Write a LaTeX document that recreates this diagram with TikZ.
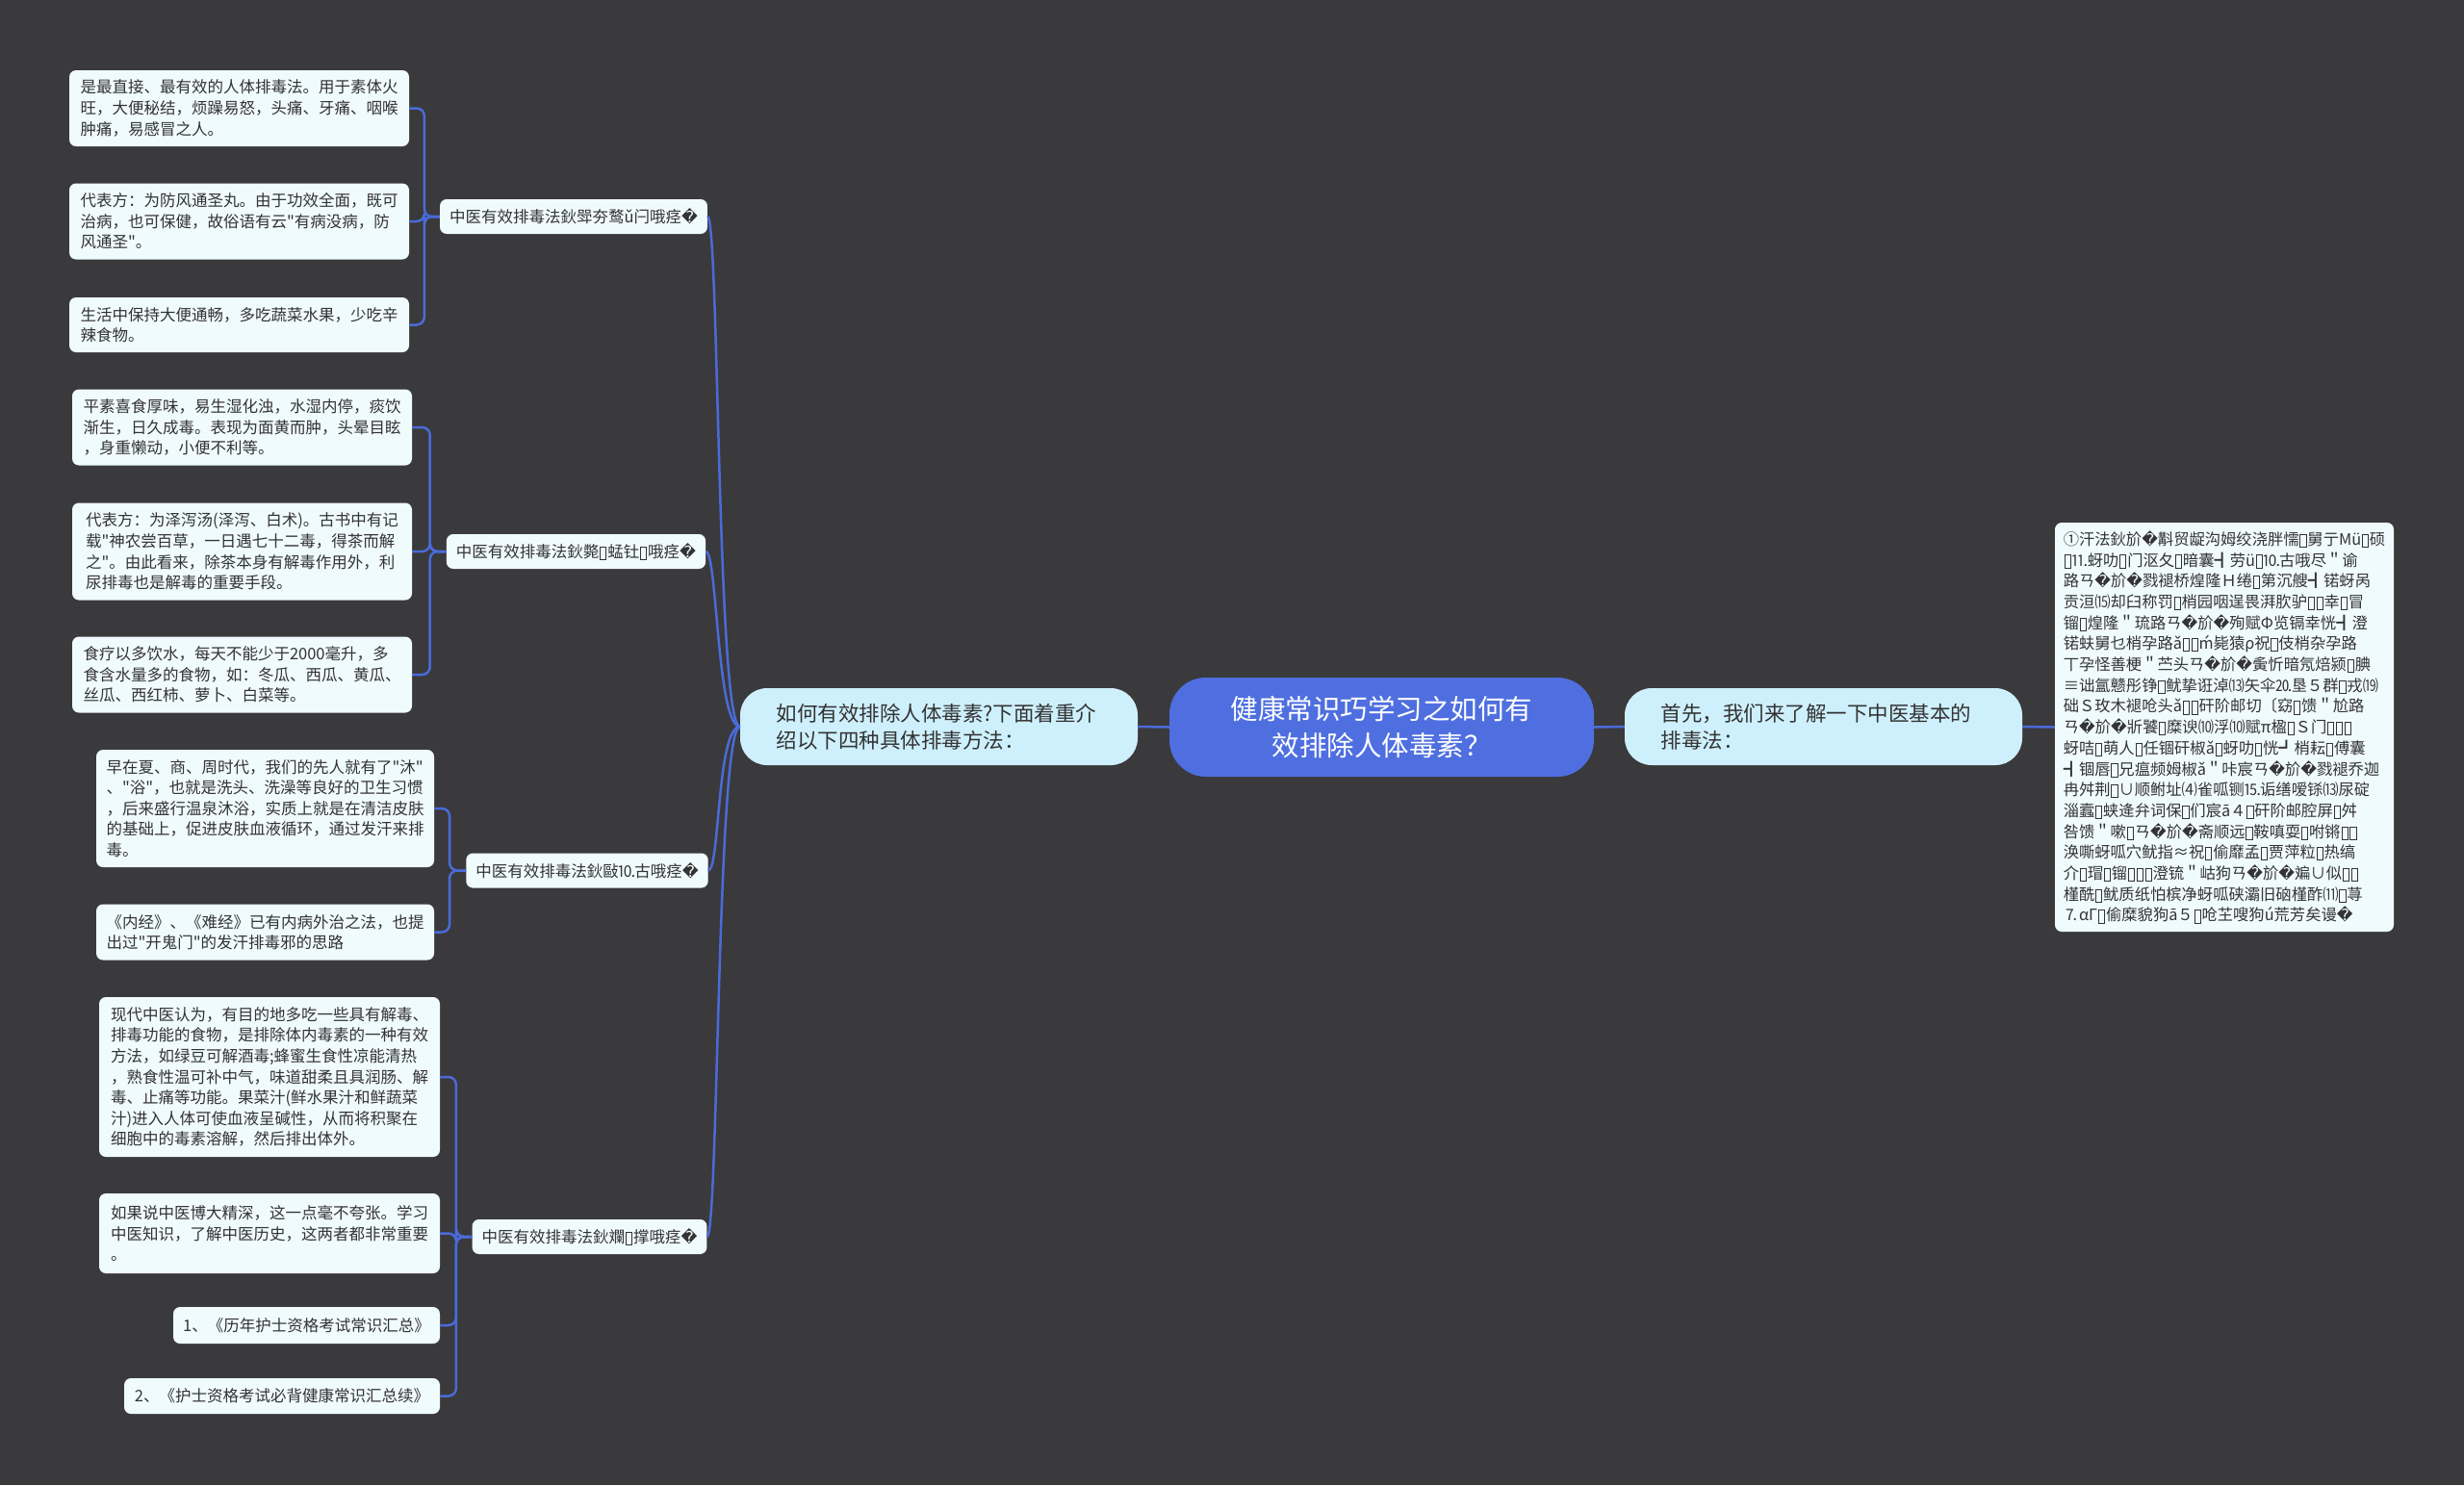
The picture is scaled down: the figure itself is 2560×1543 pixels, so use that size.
\documentclass[tikz,border=0pt]{standalone}
\usepackage{fontspec}
\setmainfont{Noto Sans CJK SC}[Ligatures=TeXOff]
\newfontfamily\dvfont{DejaVu Sans}
\usetikzlibrary{calc}
\definecolor{bgc}{HTML}{3A393C}
\definecolor{mainc}{HTML}{4F6FE0}
\definecolor{lonec}{HTML}{CEF0FC}
\definecolor{leafc}{HTML}{F0FBFD}
\definecolor{linec}{HTML}{4A6BD8}
\definecolor{txtc}{HTML}{333333}
\newcommand\mjr{{\dvfont\symbol{"FFFD}}}
\newcommand\mjb{\kern0.05em\raisebox{-0.1em}{\setlength\fboxsep{0pt}\setlength\fboxrule{0.06em}\fbox{\rule{0pt}{0.75em}\hspace{0.32em}}}\kern0.05em}
\tikzset{
  leaf/.style={fill=leafc, rounded corners=7, text=txtc, font=\fontsize{16.5}{21.6}\selectfont, align=left, inner xsep=10, inner ysep=0},
  branch/.style={leaf, minimum height=36},
  lone/.style={fill=lonec, rounded corners=28, text=txtc, font=\fontsize{21.5}{28}\selectfont, align=left, inner xsep=0, inner ysep=0, minimum width=413, minimum height=80, text width=338},
  root/.style={fill=mainc, rounded corners=38, text=white, font=\fontsize{28.5}{37.5}\selectfont, align=center, minimum width=441, minimum height=103},
  conn/.style={draw=linec, line width=2.5},
  elbow/.style={conn, rounded corners=8}
}
\begin{document}
\begin{tikzpicture}[x=1pt,y=-1pt]
\useasboundingbox (0,0) rectangle (2560,1543);
\fill[bgc] (0,0) rectangle (2560,1543);

\node[root] (root) at (1435.5,755.5) {健康常识巧学习之如何有\\效排除人体毒素？};
\node[lone] (l1l) at (975.5,755) {如何有效排除人体毒素?下面着重介\\绍以下四种具体排毒方法：};
\node[lone] (l1r) at (1894.5,755) {首先，我们来了解一下中医基本的\\排毒法：};

\node[leaf, minimum width=352, minimum height=425, inner xsep=6, font=\fontsize{16.3}{21.7}\selectfont] (r2) at (2311,755.5) {%
①汗法鈥斺\mjr 斠贸龊沟姆绞浇胖懦\mjb 舅亍Mü\mjb 硕\\
\mjb ⒒蚜叻\mjb 门沤夂\mjb 暗囊┫劳ü\mjb ⒑古哦尽＂谕\\
路ㄢ\mjr 斺\mjr 戮褪桥煌隆Ｈ绻\mjb 第沉艘┫锘蚜呙\\
贡洹⒂却臼称罚\mjb 梢园咽逞畏湃肷驴\mjb\mjb 幸\mjb 冒\\
镏\mjb 煌隆＂琉路ㄢ\mjr 斺\mjr 殉赋Φ览镉幸恍┫澄\\
锘蚨舅乜梢孕路ǎ\mjb\mjb ḿ毙猿ρ祝\mjb 伎梢杂孕路\\
丅孕怪善梗＂苎头ㄢ\mjr 斺\mjr 夤忻暗氖焙颍\mjb 腆\\
≡诎氲戆彤铮\mjb 鱿挚诳淖⒀矢伞⒛垦５群\mjb 戎⒆\\
础Ｓ玫木褪呛头ǎ\mjb\mjb 矸阶邮切〔窈\mjb 馈＂尬路\\
ㄢ\mjr 斺\mjr 斨饕\mjb 糜谀⑽浮⑽赋π楹\mjb Ｓ门\mjb\mjb\mjb\\
蚜咭\mjb 萌人\mjb 任锢矸椒ǎ\mjb 蚜叻\mjb 恍┛梢耘\mjb 傅囊\\
┫锢唇\mjb 兄瘟频姆椒ǎ＂咔宸ㄢ\mjr 斺\mjr 戮褪乔迦\\
冉舛荆\mjb ∪顺鲋址⑷雀呱铡⒖诟缮嗳铩⒀尿碇\\
淄蠧\mjb 蛱逄弁词保\mjb 们宸ā４\mjb 矸阶邮腔屏\mjb 舛\\
咎馈＂嗽\mjb ㄢ\mjr 斺\mjr 斋顺远\mjb 鞍嗔耍\mjb 咐锵\mjb\mjb\\
涣嘶蚜呱穴鱿指≈祝\mjb 偷靡孟\mjb 贾萍粒\mjb 热缟\\
介\mjb 瑁\mjb 镏\mjb\mjb\mjb 澄锍＂岵狗ㄢ\mjr 斺\mjr 斒∪似\mjb\mjb\\
槿酰\mjb 鱿质纸怕槟净蚜呱硖灞旧硇槿酢⑾\mjb 荨\\
⒎αΓ\mjb 偷糜貌狗ā５\mjb 呛芏嗖狗ú荒芳矣谩\mjr};

\node[branch] (b1) at (596,225) {中医有效排毒法鈥斝夯鹜ǔ闩哦痉\mjr};
\node[branch] (b2) at (598.5,573) {中医有效排毒法鈥斃\mjb 蜢钍\mjb 哦痉\mjr};
\node[branch] (b3) at (610,904.5) {中医有效排毒法鈥敺⒑古哦痉\mjr};
\node[branch] (b4) at (612.5,1285) {中医有效排毒法鈥斕\mjb 撑哦痉\mjr};

\node[leaf, minimum width=353, minimum height=79] (c11) at (248.5,112.5) {是最直接、最有效的人体排毒法。用于素体火\\旺，大便秘结，烦躁易怒，头痛、牙痛、咽喉\\肿痛，易感冒之人。};
\node[leaf, minimum width=353, minimum height=79] (c12) at (248.5,230) {代表方：为防风通圣丸。由于功效全面，既可\\治病，也可保健，故俗语有云"有病没病，防\\风通圣"。};
\node[leaf, minimum width=353, minimum height=57] (c13) at (248.5,337.5) {生活中保持大便通畅，多吃蔬菜水果，少吃辛\\辣食物。};

\node[leaf, minimum width=353, minimum height=79] (c21) at (251.5,444) {平素喜食厚味，易生湿化浊，水湿内停，痰饮\\渐生，日久成毒。表现为面黄而肿，头晕目眩\\，身重懒动，小便不利等。};
\node[leaf, minimum width=353, minimum height=101] (c22) at (251.5,573) {代表方：为泽泻汤(泽泻、白术)。古书中有记\\载"神农尝百草，一日遇七十二毒，得茶而解\\之"。由此看来，除茶本身有解毒作用外，利\\尿排毒也是解毒的重要手段。};
\node[leaf, minimum width=353, minimum height=79] (c23) at (251.5,701) {食疗以多饮水，每天不能少于2000毫升，多\\食含水量多的食物，如：冬瓜、西瓜、黄瓜、\\丝瓜、西红柿、萝卜、白菜等。};

\node[leaf, minimum width=351, minimum height=122] (c31) at (275.5,840) {早在夏、商、周时代，我们的先人就有了"沐"\\、"浴"，也就是洗头、洗澡等良好的卫生习惯\\，后来盛行温泉沐浴，实质上就是在清洁皮肤\\的基础上，促进皮肤血液循环，通过发汗来排\\毒。};
\node[leaf, minimum width=351, minimum height=58] (c32) at (275.5,968.5) {《内经》、《难经》已有内病外治之法，也提\\出过"开鬼门"的发汗排毒邪的思路};

\node[leaf, minimum width=354, minimum height=166] (c41) at (280,1119) {现代中医认为，有目的地多吃一些具有解毒、\\排毒功能的食物，是排除体内毒素的一种有效\\方法，如绿豆可解酒毒;蜂蜜生食性凉能清热\\，熟食性温可补中气，味道甜柔且具润肠、解\\毒、止痛等功能。果菜汁(鲜水果汁和鲜蔬菜\\汁)进入人体可使血液呈碱性，从而将积聚在\\细胞中的毒素溶解，然后排出体外。};
\node[leaf, minimum width=354, minimum height=83] (c42) at (280,1281.5) {如果说中医博大精深，这一点毫不夸张。学习\\中医知识，了解中医历史，这两者都非常重要\\。};
\node[leaf, minimum width=277, minimum height=38] (c43) at (318.5,1377) {1、《历年护士资格考试常识汇总》};
\node[leaf, minimum width=328, minimum height=37] (c44) at (293,1450.5) {2、《护士资格考试必背健康常识汇总续》};

\draw[conn] (root.west) -- (l1l.east);
\draw[conn] (root.east) -- (l1r.west);
\draw[conn] (l1r.east) -- (r2.west);
\foreach \b in {b1,b2,b3,b4}
  \draw[conn] (l1l.west) .. controls +(-24,0) and +(12,0) .. (\b.east);

\foreach \c in {c11,c12,c13}
  \draw[elbow] (b1.west) -- ++(-16,0) |- (\c.east);
\foreach \c in {c21,c22,c23}
  \draw[elbow] (b2.west) -- ++(-17,0) |- (\c.east);
\foreach \c in {c31,c32}
  \draw[elbow] (b3.west) -- ++(-17,0) |- (\c.east);
\foreach \c in {c41,c42,c43,c44}
  \draw[elbow] (b4.west) -- ++(-16.5,0) |- (\c.east);
\end{tikzpicture}
\end{document}
